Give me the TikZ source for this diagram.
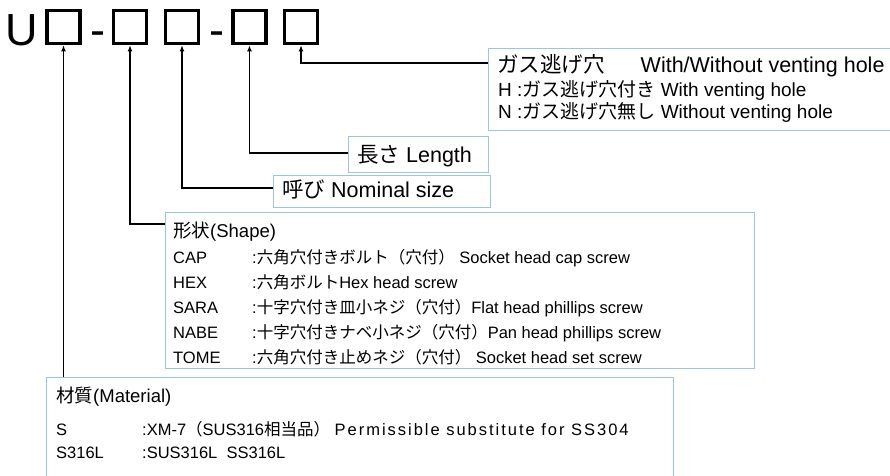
\documentclass[tikz,border=0pt]{standalone}
\usepackage{fontspec}
\setmainfont{Liberation Sans}
\newfontfamily\jp{Noto Sans CJK JP}
\newfontfamily\widesans{Liberation Sans}[LetterSpace=12]
\usetikzlibrary{arrows.meta}

\definecolor{boxline}{RGB}{157,195,230}

\tikzset{
  codebox/.style={draw,line width=3.6pt,minimum size=33pt,inner sep=0pt},
  codetxt/.style={font=\fontsize{45}{45}\selectfont,inner sep=0pt,anchor=base},
  infobox/.style={draw=boxline,line width=1pt,inner sep=0pt,anchor=north west},
  conn/.style={line width=1.3pt,-{Latex[length=6pt,width=5pt]}},
  txtbig/.style={font=\fontsize{21.5}{24}\selectfont,inner sep=0pt,anchor=base west},
  txtmid/.style={font=\fontsize{19}{22}\selectfont,inner sep=0pt,anchor=base west},
  txthead/.style={font=\fontsize{18.5}{21}\selectfont,inner sep=0pt,anchor=base west},
  txtsmall/.style={font=\fontsize{16.5}{20}\selectfont,inner sep=0pt,anchor=base west},
}

\begin{document}
\begin{tikzpicture}[x=1pt,y=-1pt]
\clip (0,0) rectangle (890,475);

% part number U?-??-??
\node[codetxt] (u) at (21.5,45) {U};
\node[codebox] (b1) at (63.5,27) {};
\node[codetxt] (d1) at (97.5,45) {-};
\node[codebox] (b2) at (130,27) {};
\node[codebox] (b3) at (182,27) {};
\node[codetxt] (d2) at (216.5,45) {-};
\node[codebox] (b4) at (249.5,27) {};
\node[codebox] (b5) at (301,27) {};

% boxes
\node[infobox,minimum width=412pt,minimum height=82pt] (gas) at (488,48) {};
\node[infobox,minimum width=140pt,minimum height=36pt] (len) at (348,136) {};
\node[infobox,minimum width=217pt,minimum height=32pt] (nom) at (273,175) {};
\node[infobox,minimum width=589pt,minimum height=156pt] (shape) at (165,212) {};
\node[infobox,minimum width=627pt,minimum height=113pt] (mat) at (46,377) {};

% connectors
\draw[conn] ([yshift=-15pt]gas.north west) -| (b5.south);
\draw[conn] ([yshift=-17pt]len.north west) -| (b4.south);
\draw[conn] ([yshift=-13pt]nom.north west) -| (b3.south);
\draw[conn] ([yshift=-12pt]shape.north west) -| (b2.south);
\draw[conn] (mat.north -| b1.south) -- (b1.south);

% gas venting hole
\node[txtbig] (gas1) at (497,72) {{\jp ガス逃げ穴}\hspace{36pt}With/Without venting hole};
\node[txtmid] (gas2) at (498,96) {H :{\jp ガス逃げ穴付き} With venting hole};
\node[txtmid] (gas3) at (498,118) {N :{\jp ガス逃げ穴無し} Without venting hole};

% length, nominal size
\node[txtbig] (len1) at (357,162) {{\jp 長さ} Length};
\node[txtbig] (nom1) at (282,197) {{\jp 呼び} Nominal size};

% shape
\node[txthead] (shp0) at (173,237) {{\jp 形状}(Shape)};
\node[txtsmall] (shp1) at (173,263) {CAP};
\node[txtsmall] (shp1d) at (252,263) {:{\jp 六角穴付きボルト（穴付）} Socket head cap screw};
\node[txtsmall] (shp2) at (173,288) {HEX};
\node[txtsmall] (shp2d) at (252,288) {:{\jp 六角ボルト}Hex head screw};
\node[txtsmall] (shp3) at (173,313) {SARA};
\node[txtsmall] (shp3d) at (252,313) {:{\jp 十字穴付き皿小ネジ（穴付）}Flat head phillips screw};
\node[txtsmall] (shp4) at (173,338) {NABE};
\node[txtsmall] (shp4d) at (252,338) {:{\jp 十字穴付きナベ小ネジ（穴付）}Pan head phillips screw};
\node[txtsmall] (shp5) at (173,363) {TOME};
\node[txtsmall] (shp5d) at (252,363) {:{\jp 六角穴付き止めネジ（穴付）} Socket head set screw};

% material
\node[txthead] (mat0) at (56,402) {{\jp 材質}(Material)};
\node[txtsmall] (mat1) at (56,435) {S};
\node[txtsmall] (mat1d) at (142,435) {:XM-7{\jp （}SUS316{\jp 相当品）} {\widesans Permissible substitute for SS304}};
\node[txtsmall] (mat2) at (56,458) {S316L};
\node[txtsmall] (mat2d) at (142,458) {:SUS316L\ \ SS316L};
\end{tikzpicture}
\end{document}
